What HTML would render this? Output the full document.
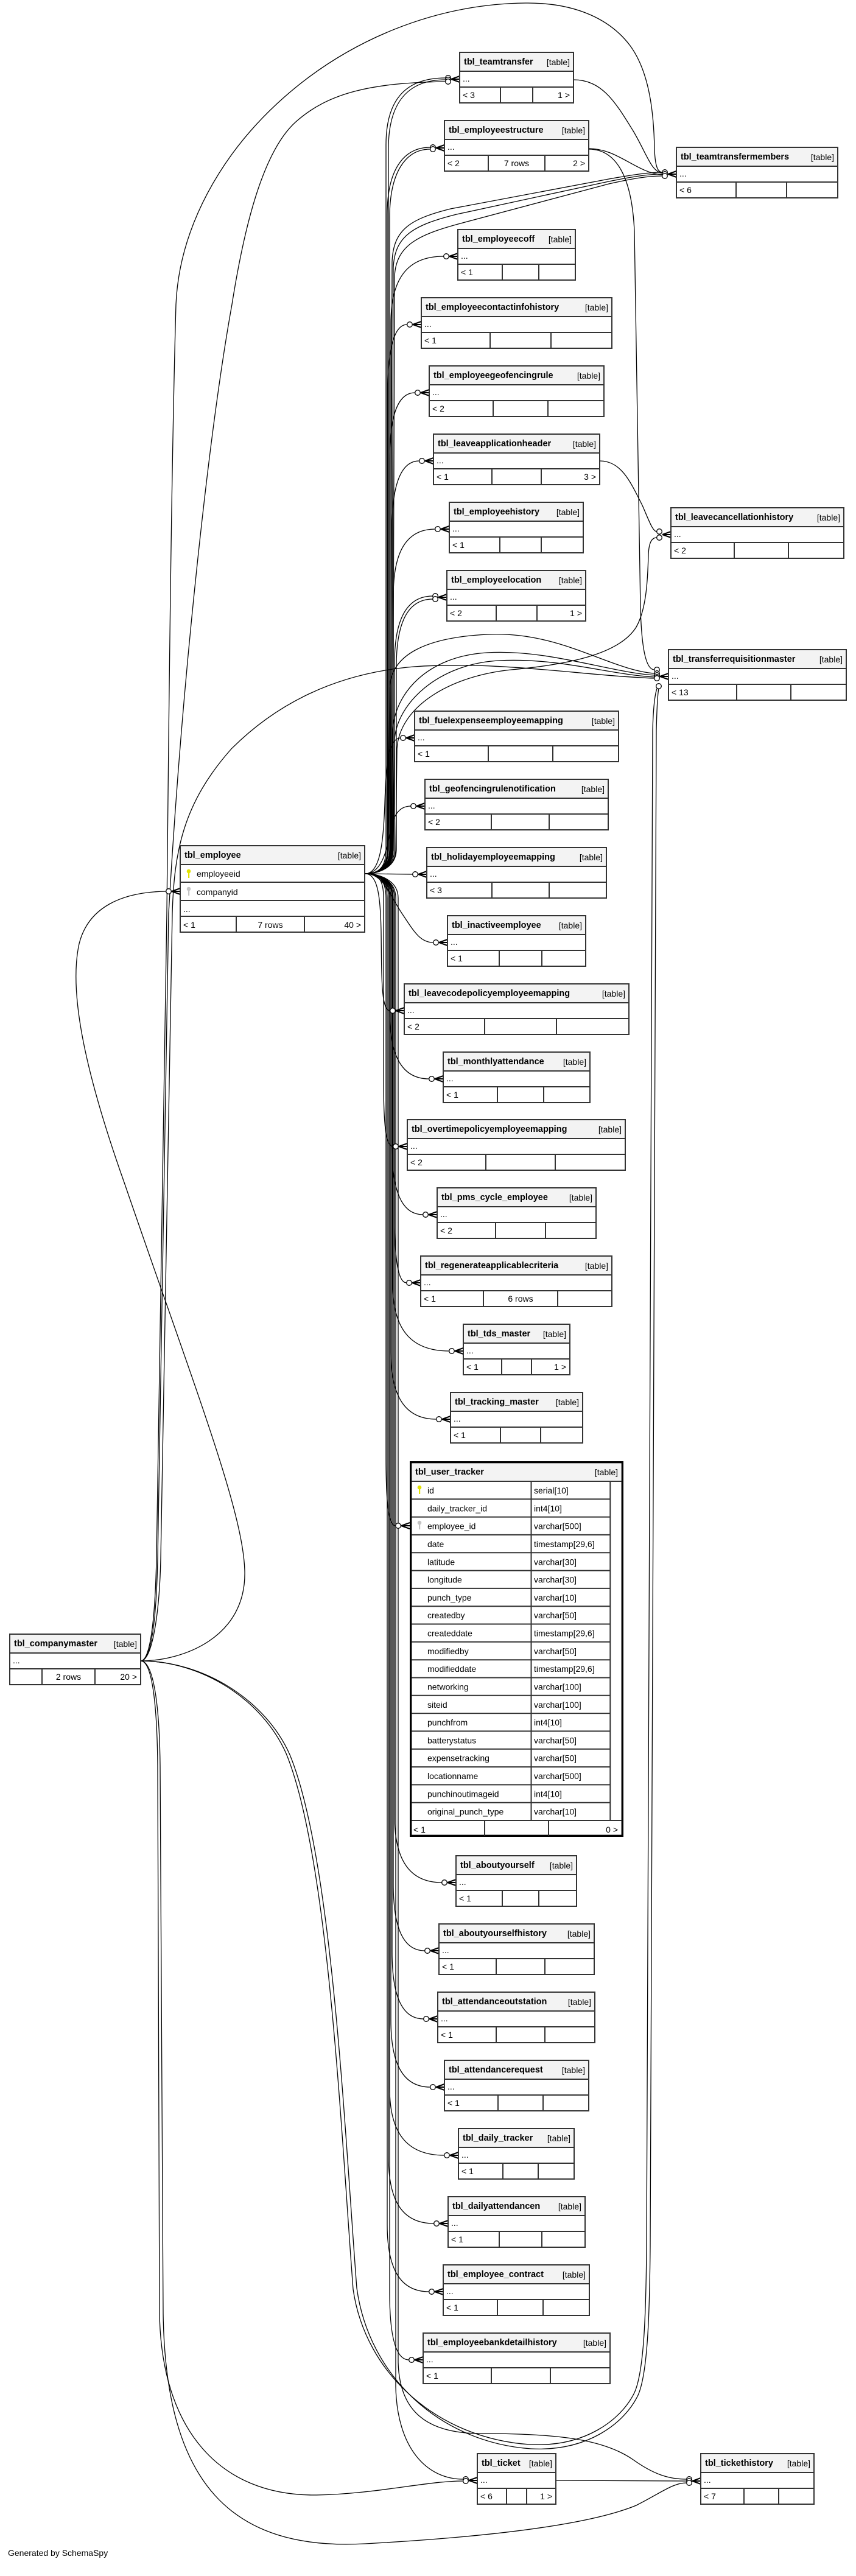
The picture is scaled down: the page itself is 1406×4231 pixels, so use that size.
<!DOCTYPE html>
<html><head><meta charset="utf-8"><style>
html,body{margin:0;padding:0;background:#fff;}
body{width:1406px;height:4231px;overflow:hidden;}
svg{display:block;}
.b{font:bold 14.5px "Liberation Sans",Arial,sans-serif;fill:#000;}
.r{font:14px "Liberation Sans",Arial,sans-serif;fill:#000;}
.box{fill:#fff;stroke:#333;stroke-width:2;}
.hd{fill:#f3f3f3;stroke:#333;stroke-width:2;}
.ln{fill:none;stroke:#333;stroke-width:2;}
.c{fill:none;stroke:#000;stroke-width:1.3;}
.o{fill:#fff;stroke:#000;stroke-width:1.3;}
.cr{fill:none;stroke:#000;stroke-width:2;}
</style></head><body>
<svg width="1406" height="4231" viewBox="0 0 1406 4231" xmlns="http://www.w3.org/2000/svg">

<!-- ========== CONNECTORS ========== -->
<g class="c">
<!-- employee fan: upward -->
<path d="M600,1435 C622,1435 634,1425 634,1395 L634,238 C634,166 664,128 731.7,128"/>
<path d="M600,1435 C622,1435 638,1425 638,1395 L638,244 C638,172 667,131 731.7,131"/>
<path d="M600,1435 C622,1435 636,1425 636,1395 L636,352 C636,280 662,242 706.7,242"/>
<path d="M600,1435 C622,1435 640,1425 640,1395 L640,357 C640,285 665,245 706.7,245"/>
<path d="M600,1435 C622,1435 642,1425 642,1395 L642,531 C642,459 668,421 728.7,421"/>
<path d="M600,1435 C622,1435 637,1425 637,1395 L637,643 C637,571 648,533 668.7,533"/>
<path d="M600,1435 C622,1435 640,1425 640,1395 L640,755 C640,683 653,645 681.7,645"/>
<path d="M600,1435 C622,1435 644,1425 644,1395 L644,867 C644,795 659,757 688.7,757"/>
<path d="M600,1435 C622,1435 646,1425 646,1395 L646,979 C646,907 667,869 714.7,869"/>
<path d="M600,1435 C622,1435 648,1425 648,1395 L648,1089 C648,1017 668,979 710.7,979"/>
<path d="M600,1435 C622,1435 651,1425 651,1395 L651,1094 C651,1022 670,984 710.7,984"/>
<path d="M600,1435 C625,1435 630,1380 632,1320 C634,1250 640,1212 657.7,1212"/>
<path d="M600,1435 C625,1435 635,1400 640,1370 C645,1340 655,1324 674.7,1324"/>
<path d="M600,1435 L677.7,1436"/>
<!-- to teamtransfermembers -->
<path d="M600,1435 C622,1435 641,1425 641,1395 L644,430 C646,378 672,360 740,343 L1000,294 C1040,287 1065,283 1087.7,283"/>
<path d="M600,1435 C622,1435 643,1425 643,1395 L646,440 C648,388 678,370 750,352 L1000,298 C1040,290 1065,286 1087.7,286"/>
<path d="M600,1435 C622,1435 645,1425 645,1395 L648,455 C650,402 688,385 760,366 L1000,302 C1040,293 1065,289 1087.7,289"/>
<!-- to transferrequisitionmaster -->
<path d="M600,1435 C622,1435 638,1425 638,1395 L640,1130 C642,1075 700,1047 800,1042 C920,1036 1000,1100 1074.7,1106"/>
<path d="M600,1435 C622,1435 642,1425 642,1395 L645,1200 C648,1140 700,1078 800,1072 C900,1066 1000,1104 1074.7,1109"/>
<path d="M600,1435 C622,1435 646,1425 646,1395 L648,1215 C652,1155 720,1090 820,1085 C920,1080 1000,1108 1074.7,1112"/>
<!-- to leavecancellationhistory -->
<path d="M600,1435 C622,1435 650,1425 650,1395 L652,1230 C656,1160 740,1110 840,1100 C950,1090 1020,1070 1045,1030 C1062,1000 1064,950 1065,910 C1066,892 1070,883 1078.7,883"/>
<!-- employee fan: downward -->
<path d="M600,1435 C630,1435 640,1470 660,1500 C680,1530 690,1548 711.7,1548"/>
<path d="M600,1435 C622,1435 625,1480 626,1530 C627,1610 626,1660 640.7,1660"/>
<path d="M600,1435 C622,1435 640,1445 640,1475 L640,1662 C640,1734 660,1772 704.7,1772"/>
<path d="M600,1435 C622,1435 630,1445 630,1475 L630,1773 C630,1845 633,1883 645.7,1883"/>
<path d="M600,1435 C622,1435 644,1445 644,1475 L644,1885 C644,1957 660,1995 694.7,1995"/>
<path d="M600,1435 C622,1435 648,1445 648,1475 L648,1997 C648,2069 654,2107 667.7,2107"/>
<path d="M600,1435 C622,1435 645,1445 645,1475 L645,2109 C645,2181 673,2219 737.7,2219"/>
<path d="M600,1435 C622,1435 642,1445 642,1475 L642,2221 C642,2293 665,2331 716.7,2331"/>
<path d="M600,1435 C622,1435 634,1445 634,1475 L634,2396 C634,2468 638,2506 649.7,2506"/>
<path d="M600,1435 C622,1435 648,1445 648,1475 L648,2982 C648,3054 672,3092 725.7,3092"/>
<path d="M600,1435 C622,1435 646,1445 646,1475 L646,3094 C646,3166 662,3204 697.7,3204"/>
<path d="M600,1435 C622,1435 644,1445 644,1475 L644,3206 C644,3278 660,3316 695.7,3316"/>
<path d="M600,1435 C622,1435 642,1445 642,1475 L642,3318 C642,3390 662,3428 706.7,3428"/>
<path d="M600,1435 C622,1435 640,1445 640,1475 L640,3430 C640,3502 667,3540 729.7,3540"/>
<path d="M600,1435 C622,1435 638,1445 638,1475 L638,3542 C638,3614 660,3652 712.7,3652"/>
<path d="M600,1435 C622,1435 636,1445 636,1475 L636,3654 C636,3726 657,3764 704.7,3764"/>
<path d="M600,1435 C622,1435 640,1445 640,1475 L640,3766 C640,3838 650,3876 671.7,3876"/>
<path d="M600,1435 C622,1435 650,1445 650,1475 L650,3920 C652,4020 700,4072 760.7,4072"/>
<path d="M600,1435 C622,1435 654,1445 654,1475 L654,3880 C656,3960 700,3997 790,3997 C910,3997 990,4005 1040,4040 C1075,4065 1100,4072 1127.7,4072"/>

<!-- companymaster lines -->
<path d="M231,2728 C300,2728 405,2690 402,2580 C399,2480 320,2280 205,1945 C150,1790 110,1640 130,1550 C145,1490 200,1465 272.7,1464"/>
<path d="M231,2728 C248,2728 255,2650 257,2560 L274,1500 C278,1100 282,750 289,500 C300,250 560,8 863,5 C950,4 1005,35 1035,75 C1068,120 1074,190 1075,245 C1076,272 1080,283 1087.7,283"/>
<path d="M231,2728 C250,2728 257,2650 259,2560 L277,1500 C300,1100 345,700 381,500 C400,380 430,250 486,200 C540,152 610,136 731.7,134"/>
<path d="M231,2728 C250,2728 262,2650 264,2560 L283,1500 C286,1400 300,1320 380,1230 C460,1150 560,1105 680,1095 C820,1085 960,1110 1074.7,1114"/>
<path d="M231,2728 C250,2728 258,2800 259,2900 L262,3800 C265,3990 360,4100 520,4098 C620,4096 700,4075 760.7,4075"/>
<path d="M231,2728 C252,2728 262,2800 263,2900 L268,3800 C272,4080 380,4190 600,4178 C780,4168 960,4150 1045,4115 C1085,4095 1105,4078 1127.7,4078"/>
<path d="M231,2728 C330,2728 430,2790 470,2880 C540,3050 560,3500 580,3760 C600,3900 720,4005 870,4015 C960,4020 1020,3975 1042,3930 C1058,3895 1061,3800 1062,3690 L1072,1200 C1073,1160 1076,1140 1079,1131"/>
<path d="M231,2728 C334,2728 436,2792 476,2882 C546,3052 566,3500 586,3758 C606,3905 725,4012 872,4022 C965,4027 1026,3980 1048,3934 C1064,3898 1067,3800 1068,3690 L1078,1200 C1079,1160 1080,1140 1082,1131"/>

<!-- other relations -->
<path d="M942,131 C990,131 1012,170 1040,215 C1062,252 1070,283 1087.7,284"/>
<path d="M967,244 C1015,244 1045,284 1087.7,287"/>
<path d="M967,245 C1012,245 1038,290 1042,380 L1052,1000 C1054,1070 1062,1100 1074.7,1100"/>
<path d="M985,757 C1020,757 1035,790 1055,830 C1066,855 1072,873 1078.7,873"/>
<path d="M913,4074 L1127.7,4075"/>
</g>

<!-- ========== CROW'S FEET ========== -->
<g class="cr">
<path d="M741,130 L755,125 M741,130 L755,130 M741,130 L755,135"/>
<path d="M716,243 L730,238 M716,243 L730,243 M716,243 L730,248"/>
<path d="M1097,286 L1111,281 M1097,286 L1111,286 M1097,286 L1111,291"/>
<path d="M738,421 L752,416 M738,421 L752,421 M738,421 L752,426"/>
<path d="M678,533 L692,528 M678,533 L692,533 M678,533 L692,538"/>
<path d="M691,645 L705,640 M691,645 L705,645 M691,645 L705,650"/>
<path d="M698,757 L712,752 M698,757 L712,757 M698,757 L712,762"/>
<path d="M1088,878 L1102,873 M1088,878 L1102,878 M1088,878 L1102,883"/>
<path d="M724,869 L738,864 M724,869 L738,869 M724,869 L738,874"/>
<path d="M720,981 L734,976 M720,981 L734,981 M720,981 L734,986"/>
<path d="M1084,1111 L1098,1106 M1084,1111 L1098,1111 M1084,1111 L1098,1116"/>
<path d="M667,1212 L681,1207 M667,1212 L681,1212 M667,1212 L681,1217"/>
<path d="M684,1324 L698,1319 M684,1324 L698,1324 M684,1324 L698,1329"/>
<path d="M687,1436 L701,1431 M687,1436 L701,1436 M687,1436 L701,1441"/>
<path d="M282,1464 L296,1459 M282,1464 L296,1464 M282,1464 L296,1469"/>
<path d="M721,1548 L735,1543 M721,1548 L735,1548 M721,1548 L735,1553"/>
<path d="M650,1660 L664,1655 M650,1660 L664,1660 M650,1660 L664,1665"/>
<path d="M714,1772 L728,1767 M714,1772 L728,1772 M714,1772 L728,1777"/>
<path d="M655,1883 L669,1878 M655,1883 L669,1883 M655,1883 L669,1888"/>
<path d="M704,1995 L718,1990 M704,1995 L718,1995 M704,1995 L718,2000"/>
<path d="M677,2107 L691,2102 M677,2107 L691,2107 M677,2107 L691,2112"/>
<path d="M747,2219 L761,2214 M747,2219 L761,2219 M747,2219 L761,2224"/>
<path d="M726,2331 L740,2326 M726,2331 L740,2331 M726,2331 L740,2336"/>
<path d="M659,2506 L673,2501 M659,2506 L673,2506 M659,2506 L673,2511"/>
<path d="M735,3092 L749,3087 M735,3092 L749,3092 M735,3092 L749,3097"/>
<path d="M707,3204 L721,3199 M707,3204 L721,3204 M707,3204 L721,3209"/>
<path d="M705,3316 L719,3311 M705,3316 L719,3316 M705,3316 L719,3321"/>
<path d="M716,3428 L730,3423 M716,3428 L730,3428 M716,3428 L730,3433"/>
<path d="M739,3540 L753,3535 M739,3540 L753,3540 M739,3540 L753,3545"/>
<path d="M722,3652 L736,3647 M722,3652 L736,3652 M722,3652 L736,3657"/>
<path d="M714,3764 L728,3759 M714,3764 L728,3764 M714,3764 L728,3769"/>
<path d="M681,3876 L695,3871 M681,3876 L695,3876 M681,3876 L695,3881"/>
<path d="M770,4074 L784,4069 M770,4074 L784,4074 M770,4074 L784,4079"/>
<path d="M1137,4075 L1151,4070 M1137,4075 L1151,4075 M1137,4075 L1151,4080"/>
</g>

<!-- ========== CIRCLES ========== -->
<g class="o">
<circle cx="736" cy="128" r="4.3"/><circle cx="736" cy="131" r="4.3"/><circle cx="736" cy="134" r="4.3"/>
<circle cx="711" cy="242" r="4.3"/><circle cx="711" cy="245" r="4.3"/>
<circle cx="1092" cy="283" r="4.3"/><circle cx="1092" cy="286" r="4.3"/><circle cx="1092" cy="289" r="4.3"/>
<circle cx="733" cy="421" r="4.3"/>
<circle cx="673" cy="533" r="4.3"/>
<circle cx="686" cy="645" r="4.3"/>
<circle cx="693" cy="757" r="4.3"/>
<circle cx="1083" cy="873" r="4.3"/><circle cx="1083" cy="883" r="4.3"/>
<circle cx="719" cy="869" r="4.3"/>
<circle cx="715" cy="979" r="4.3"/><circle cx="715" cy="984" r="4.3"/>
<circle cx="1079" cy="1100" r="4.3"/><circle cx="1079" cy="1106" r="4.3"/><circle cx="1079" cy="1109" r="4.3"/><circle cx="1079" cy="1112" r="4.3"/><circle cx="1079" cy="1114" r="4.3"/><circle cx="1082" cy="1127" r="4.3"/>
<circle cx="662" cy="1212" r="4.3"/>
<circle cx="679" cy="1324" r="4.3"/>
<circle cx="682" cy="1436" r="4.3"/>
<circle cx="277" cy="1464" r="4.3"/>
<circle cx="716" cy="1548" r="4.3"/>
<circle cx="645" cy="1660" r="4.3"/>
<circle cx="709" cy="1772" r="4.3"/>
<circle cx="650" cy="1883" r="4.3"/>
<circle cx="699" cy="1995" r="4.3"/>
<circle cx="672" cy="2107" r="4.3"/>
<circle cx="742" cy="2219" r="4.3"/>
<circle cx="721" cy="2331" r="4.3"/>
<circle cx="654" cy="2506" r="4.3"/>
<circle cx="730" cy="3092" r="4.3"/>
<circle cx="702" cy="3204" r="4.3"/>
<circle cx="700" cy="3316" r="4.3"/>
<circle cx="711" cy="3428" r="4.3"/>
<circle cx="734" cy="3540" r="4.3"/>
<circle cx="717" cy="3652" r="4.3"/>
<circle cx="709" cy="3764" r="4.3"/>
<circle cx="676" cy="3876" r="4.3"/>
<circle cx="765" cy="4072" r="4.3"/><circle cx="765" cy="4075" r="4.3"/>
<circle cx="1132" cy="4072" r="4.3"/><circle cx="1132" cy="4075" r="4.3"/><circle cx="1132" cy="4078" r="4.3"/>
</g>

<!-- ========== TABLES ========== -->
<!-- teamtransfer -->
<rect class="box" x="755" y="86" width="187" height="83"/><rect class="hd" x="755" y="86" width="187" height="31"/>
<path class="ln" d="M755 143H942 M822 143V169 M875 143V169"/>
<text class="b" x="762" y="106">tbl_teamtransfer</text><text class="r" x="936" y="107" text-anchor="end">[table]</text>
<text class="r" x="760" y="134">...</text><text class="r" x="760" y="161">&lt; 3</text><text class="r" x="936" y="161" text-anchor="end">1 &gt;</text>

<!-- employeestructure -->
<rect class="box" x="730" y="198" width="237" height="83"/><rect class="hd" x="730" y="198" width="237" height="31"/>
<path class="ln" d="M730 255H967 M802 255V281 M895 255V281"/>
<text class="b" x="737" y="218">tbl_employeestructure</text><text class="r" x="961" y="219" text-anchor="end">[table]</text>
<text class="r" x="735" y="246">...</text><text class="r" x="735" y="273">&lt; 2</text><text class="r" x="848.5" y="273" text-anchor="middle">7 rows</text><text class="r" x="961" y="273" text-anchor="end">2 &gt;</text>

<!-- teamtransfermembers -->
<rect class="box" x="1111" y="242" width="265" height="83"/><rect class="hd" x="1111" y="242" width="265" height="31"/>
<path class="ln" d="M1111 299H1376 M1209 299V325 M1292 299V325"/>
<text class="b" x="1118" y="262">tbl_teamtransfermembers</text><text class="r" x="1370" y="263" text-anchor="end">[table]</text>
<text class="r" x="1116" y="290">...</text><text class="r" x="1116" y="317">&lt; 6</text>

<!-- employeecoff -->
<rect class="box" x="752" y="377" width="193" height="83"/><rect class="hd" x="752" y="377" width="193" height="31"/>
<path class="ln" d="M752 434H945 M825 434V460 M885 434V460"/>
<text class="b" x="759" y="397">tbl_employeecoff</text><text class="r" x="939" y="398" text-anchor="end">[table]</text>
<text class="r" x="757" y="425">...</text><text class="r" x="757" y="452">&lt; 1</text>

<!-- employeecontactinfohistory -->
<rect class="box" x="692" y="489" width="313" height="83"/><rect class="hd" x="692" y="489" width="313" height="31"/>
<path class="ln" d="M692 546H1005 M805 546V572 M905 546V572"/>
<text class="b" x="699" y="509">tbl_employeecontactinfohistory</text><text class="r" x="999" y="510" text-anchor="end">[table]</text>
<text class="r" x="697" y="537">...</text><text class="r" x="697" y="564">&lt; 1</text>

<!-- employeegeofencingrule -->
<rect class="box" x="705" y="601" width="287" height="83"/><rect class="hd" x="705" y="601" width="287" height="31"/>
<path class="ln" d="M705 658H992 M810 658V684 M900 658V684"/>
<text class="b" x="712" y="621">tbl_employeegeofencingrule</text><text class="r" x="986" y="622" text-anchor="end">[table]</text>
<text class="r" x="710" y="649">...</text><text class="r" x="710" y="676">&lt; 2</text>

<!-- leaveapplicationheader -->
<rect class="box" x="712" y="713" width="273" height="83"/><rect class="hd" x="712" y="713" width="273" height="31"/>
<path class="ln" d="M712 770H985 M808 770V796 M889 770V796"/>
<text class="b" x="719" y="733">tbl_leaveapplicationheader</text><text class="r" x="979" y="734" text-anchor="end">[table]</text>
<text class="r" x="717" y="761">...</text><text class="r" x="717" y="788">&lt; 1</text><text class="r" x="979" y="788" text-anchor="end">3 &gt;</text>

<!-- leavecancellationhistory -->
<rect class="box" x="1102" y="834" width="284" height="83"/><rect class="hd" x="1102" y="834" width="284" height="31"/>
<path class="ln" d="M1102 891H1386 M1206 891V917 M1295 891V917"/>
<text class="b" x="1109" y="854">tbl_leavecancellationhistory</text><text class="r" x="1380" y="855" text-anchor="end">[table]</text>
<text class="r" x="1107" y="882">...</text><text class="r" x="1107" y="909">&lt; 2</text>

<!-- employeehistory -->
<rect class="box" x="738" y="825" width="220" height="83"/><rect class="hd" x="738" y="825" width="220" height="31"/>
<path class="ln" d="M738 882H958 M821 882V908 M889 882V908"/>
<text class="b" x="745" y="845">tbl_employeehistory</text><text class="r" x="952" y="846" text-anchor="end">[table]</text>
<text class="r" x="743" y="873">...</text><text class="r" x="743" y="900">&lt; 1</text>

<!-- employeelocation -->
<rect class="box" x="734" y="937" width="228" height="83"/><rect class="hd" x="734" y="937" width="228" height="31"/>
<path class="ln" d="M734 994H962 M815 994V1020 M882 994V1020"/>
<text class="b" x="741" y="957">tbl_employeelocation</text><text class="r" x="956" y="958" text-anchor="end">[table]</text>
<text class="r" x="739" y="985">...</text><text class="r" x="739" y="1012">&lt; 2</text><text class="r" x="956" y="1012" text-anchor="end">1 &gt;</text>

<!-- transferrequisitionmaster -->
<rect class="box" x="1098" y="1067" width="292" height="83"/><rect class="hd" x="1098" y="1067" width="292" height="31"/>
<path class="ln" d="M1098 1124H1390 M1210 1124V1150 M1299 1124V1150"/>
<text class="b" x="1105" y="1087">tbl_transferrequisitionmaster</text><text class="r" x="1384" y="1088" text-anchor="end">[table]</text>
<text class="r" x="1103" y="1115">...</text><text class="r" x="1103" y="1142">&lt; 13</text>

<!-- fuelexpenseemployeemapping -->
<rect class="box" x="681" y="1168" width="335" height="83"/><rect class="hd" x="681" y="1168" width="335" height="31"/>
<path class="ln" d="M681 1225H1016 M802 1225V1251 M908 1225V1251"/>
<text class="b" x="688" y="1188">tbl_fuelexpenseemployeemapping</text><text class="r" x="1010" y="1189" text-anchor="end">[table]</text>
<text class="r" x="686" y="1216">...</text><text class="r" x="686" y="1243">&lt; 1</text>

<!-- geofencingrulenotification -->
<rect class="box" x="698" y="1280" width="301" height="83"/><rect class="hd" x="698" y="1280" width="301" height="31"/>
<path class="ln" d="M698 1337H999 M807 1337V1363 M902 1337V1363"/>
<text class="b" x="705" y="1300">tbl_geofencingrulenotification</text><text class="r" x="993" y="1301" text-anchor="end">[table]</text>
<text class="r" x="703" y="1328">...</text><text class="r" x="703" y="1355">&lt; 2</text>

<!-- holidayemployeemapping -->
<rect class="box" x="701" y="1392" width="295" height="83"/><rect class="hd" x="701" y="1392" width="295" height="31"/>
<path class="ln" d="M701 1449H996 M808 1449V1475 M902 1449V1475"/>
<text class="b" x="708" y="1412">tbl_holidayemployeemapping</text><text class="r" x="990" y="1413" text-anchor="end">[table]</text>
<text class="r" x="706" y="1440">...</text><text class="r" x="706" y="1467">&lt; 3</text>

<!-- employee -->
<rect class="box" x="296" y="1389" width="303" height="142"/><rect class="hd" x="296" y="1389" width="303" height="31"/>
<path class="ln" d="M296 1449H599 M296 1479H599 M296 1505H599 M388 1505V1531 M500 1505V1531"/>
<text class="b" x="303" y="1409">tbl_employee</text><text class="r" x="593" y="1410" text-anchor="end">[table]</text>
<g fill="#e2e200"><circle cx="310" cy="1431" r="3.3"/><rect x="309" y="1433" width="2.2" height="9"/></g>
<g fill="#c4c4c4"><circle cx="310" cy="1460" r="3.3"/><rect x="309" y="1462" width="2.2" height="9"/></g>
<text class="r" x="323" y="1440">employeeid</text>
<text class="r" x="323" y="1470">companyid</text>
<text class="r" x="301" y="1498">...</text>
<text class="r" x="301" y="1524">&lt; 1</text><text class="r" x="444" y="1524" text-anchor="middle">7 rows</text><text class="r" x="593" y="1524" text-anchor="end">40 &gt;</text>

<!-- inactiveemployee -->
<rect class="box" x="735" y="1504" width="227" height="83"/><rect class="hd" x="735" y="1504" width="227" height="31"/>
<path class="ln" d="M735 1561H962 M820 1561V1587 M890 1561V1587"/>
<text class="b" x="742" y="1524">tbl_inactiveemployee</text><text class="r" x="956" y="1525" text-anchor="end">[table]</text>
<text class="r" x="740" y="1552">...</text><text class="r" x="740" y="1579">&lt; 1</text>

<!-- leavecodepolicyemployeemapping -->
<rect class="box" x="664" y="1616" width="369" height="83"/><rect class="hd" x="664" y="1616" width="369" height="31"/>
<path class="ln" d="M664 1673H1033 M796 1673V1699 M914 1673V1699"/>
<text class="b" x="671" y="1636">tbl_leavecodepolicyemployeemapping</text><text class="r" x="1027" y="1637" text-anchor="end">[table]</text>
<text class="r" x="669" y="1664">...</text><text class="r" x="669" y="1691">&lt; 2</text>

<!-- monthlyattendance -->
<rect class="box" x="728" y="1728" width="241" height="83"/><rect class="hd" x="728" y="1728" width="241" height="31"/>
<path class="ln" d="M728 1785H969 M817 1785V1811 M893 1785V1811"/>
<text class="b" x="735" y="1748">tbl_monthlyattendance</text><text class="r" x="963" y="1749" text-anchor="end">[table]</text>
<text class="r" x="733" y="1776">...</text><text class="r" x="733" y="1803">&lt; 1</text>

<!-- overtimepolicyemployeemapping -->
<rect class="box" x="669" y="1839" width="358" height="83"/><rect class="hd" x="669" y="1839" width="358" height="31"/>
<path class="ln" d="M669 1896H1027 M798 1896V1922 M912 1896V1922"/>
<text class="b" x="676" y="1859">tbl_overtimepolicyemployeemapping</text><text class="r" x="1021" y="1860" text-anchor="end">[table]</text>
<text class="r" x="674" y="1887">...</text><text class="r" x="674" y="1914">&lt; 2</text>

<!-- pms_cycle_employee -->
<rect class="box" x="718" y="1951" width="261" height="83"/><rect class="hd" x="718" y="1951" width="261" height="31"/>
<path class="ln" d="M718 2008H979 M814 2008V2034 M896 2008V2034"/>
<text class="b" x="725" y="1971">tbl_pms_cycle_employee</text><text class="r" x="973" y="1972" text-anchor="end">[table]</text>
<text class="r" x="723" y="1999">...</text><text class="r" x="723" y="2026">&lt; 2</text>

<!-- regenerateapplicablecriteria -->
<rect class="box" x="691" y="2063" width="314" height="83"/><rect class="hd" x="691" y="2063" width="314" height="31"/>
<path class="ln" d="M691 2120H1005 M794 2120V2146 M916 2120V2146"/>
<text class="b" x="698" y="2083">tbl_regenerateapplicablecriteria</text><text class="r" x="999" y="2084" text-anchor="end">[table]</text>
<text class="r" x="696" y="2111">...</text><text class="r" x="696" y="2138">&lt; 1</text><text class="r" x="855" y="2138" text-anchor="middle">6 rows</text>

<!-- tds_master -->
<rect class="box" x="761" y="2175" width="175" height="83"/><rect class="hd" x="761" y="2175" width="175" height="31"/>
<path class="ln" d="M761 2232H936 M824 2232V2258 M873 2232V2258"/>
<text class="b" x="768" y="2195">tbl_tds_master</text><text class="r" x="930" y="2196" text-anchor="end">[table]</text>
<text class="r" x="766" y="2223">...</text><text class="r" x="766" y="2250">&lt; 1</text><text class="r" x="930" y="2250" text-anchor="end">1 &gt;</text>

<!-- tracking_master -->
<rect class="box" x="740" y="2287" width="217" height="83"/><rect class="hd" x="740" y="2287" width="217" height="31"/>
<path class="ln" d="M740 2344H957 M822 2344V2370 M888 2344V2370"/>
<text class="b" x="747" y="2307">tbl_tracking_master</text><text class="r" x="951" y="2308" text-anchor="end">[table]</text>
<text class="r" x="745" y="2335">...</text><text class="r" x="745" y="2362">&lt; 1</text>

<!-- user_tracker -->
<rect x="674.7" y="2401.7" width="347.6" height="613.6" fill="#fff" stroke="#000" stroke-width="3.4"/>
<rect x="676.4" y="2403.4" width="344.2" height="29.6" fill="#f3f3f3"/>
<path class="ln" d="M676 2433H1021 M676 2462.3H1002.3 M676 2491.6H1002.3 M676 2520.9H1002.3 M676 2550.3H1002.3 M676 2579.6H1002.3 M676 2608.9H1002.3 M676 2638.2H1002.3 M676 2667.5H1002.3 M676 2696.8H1002.3 M676 2726.2H1002.3 M676 2755.5H1002.3 M676 2784.8H1002.3 M676 2814.1H1002.3 M676 2843.4H1002.3 M676 2872.7H1002.3 M676 2902.1H1002.3 M676 2931.4H1002.3 M676 2960.7H1002.3 M676 2990H1021 M872.5 2433V2990 M1002.3 2433V2990 M796 2990V3015 M901 2990V3015"/>
<text class="b" x="682" y="2422">tbl_user_tracker</text><text class="r" x="1015" y="2423" text-anchor="end">[table]</text>
<g fill="#e2e200"><circle cx="689" cy="2443" r="3.3"/><rect x="688" y="2445" width="2.2" height="9"/></g>
<g fill="#c4c4c4"><circle cx="689" cy="2501" r="3.3"/><rect x="688" y="2503" width="2.2" height="9"/></g>
<g class="r">
<text x="702" y="2453">id</text><text x="877" y="2453">serial[10]</text>
<text x="702" y="2482.3">daily_tracker_id</text><text x="877" y="2482.3">int4[10]</text>
<text x="702" y="2511.6">employee_id</text><text x="877" y="2511.6">varchar[500]</text>
<text x="702" y="2540.9">date</text><text x="877" y="2540.9">timestamp[29,6]</text>
<text x="702" y="2570.3">latitude</text><text x="877" y="2570.3">varchar[30]</text>
<text x="702" y="2599.6">longitude</text><text x="877" y="2599.6">varchar[30]</text>
<text x="702" y="2628.9">punch_type</text><text x="877" y="2628.9">varchar[10]</text>
<text x="702" y="2658.2">createdby</text><text x="877" y="2658.2">varchar[50]</text>
<text x="702" y="2687.5">createddate</text><text x="877" y="2687.5">timestamp[29,6]</text>
<text x="702" y="2716.8">modifiedby</text><text x="877" y="2716.8">varchar[50]</text>
<text x="702" y="2746.2">modifieddate</text><text x="877" y="2746.2">timestamp[29,6]</text>
<text x="702" y="2775.5">networking</text><text x="877" y="2775.5">varchar[100]</text>
<text x="702" y="2804.8">siteid</text><text x="877" y="2804.8">varchar[100]</text>
<text x="702" y="2834.1">punchfrom</text><text x="877" y="2834.1">int4[10]</text>
<text x="702" y="2863.4">batterystatus</text><text x="877" y="2863.4">varchar[50]</text>
<text x="702" y="2892.7">expensetracking</text><text x="877" y="2892.7">varchar[50]</text>
<text x="702" y="2922.1">locationname</text><text x="877" y="2922.1">varchar[500]</text>
<text x="702" y="2951.4">punchinoutimageid</text><text x="877" y="2951.4">int4[10]</text>
<text x="702" y="2980.7">original_punch_type</text><text x="877" y="2980.7">varchar[10]</text>
<text x="679" y="3010">&lt; 1</text><text x="1015" y="3010" text-anchor="end">0 &gt;</text>
</g>

<!-- companymaster -->
<rect class="box" x="16" y="2684" width="215" height="83"/><rect class="hd" x="16" y="2684" width="215" height="31"/>
<path class="ln" d="M16 2741H231 M69 2741V2767 M156 2741V2767"/>
<text class="b" x="23" y="2704">tbl_companymaster</text><text class="r" x="225" y="2705" text-anchor="end">[table]</text>
<text class="r" x="21" y="2732">...</text><text class="r" x="112.5" y="2759" text-anchor="middle">2 rows</text><text class="r" x="225" y="2759" text-anchor="end">20 &gt;</text>

<!-- aboutyourself -->
<rect class="box" x="749" y="3048" width="198" height="83"/><rect class="hd" x="749" y="3048" width="198" height="31"/>
<path class="ln" d="M749 3105H947 M825 3105V3131 M885 3105V3131"/>
<text class="b" x="756" y="3068">tbl_aboutyourself</text><text class="r" x="941" y="3069" text-anchor="end">[table]</text>
<text class="r" x="754" y="3096">...</text><text class="r" x="754" y="3123">&lt; 1</text>

<!-- aboutyourselfhistory -->
<rect class="box" x="721" y="3160" width="255" height="83"/><rect class="hd" x="721" y="3160" width="255" height="31"/>
<path class="ln" d="M721 3217H976 M815 3217V3243 M895 3217V3243"/>
<text class="b" x="728" y="3180">tbl_aboutyourselfhistory</text><text class="r" x="970" y="3181" text-anchor="end">[table]</text>
<text class="r" x="726" y="3208">...</text><text class="r" x="726" y="3235">&lt; 1</text>

<!-- attendanceoutstation -->
<rect class="box" x="719" y="3272" width="258" height="83"/><rect class="hd" x="719" y="3272" width="258" height="31"/>
<path class="ln" d="M719 3329H977 M815 3329V3355 M895 3329V3355"/>
<text class="b" x="726" y="3292">tbl_attendanceoutstation</text><text class="r" x="971" y="3293" text-anchor="end">[table]</text>
<text class="r" x="724" y="3320">...</text><text class="r" x="724" y="3347">&lt; 1</text>

<!-- attendancerequest -->
<rect class="box" x="730" y="3384" width="237" height="83"/><rect class="hd" x="730" y="3384" width="237" height="31"/>
<path class="ln" d="M730 3441H967 M818 3441V3467 M892 3441V3467"/>
<text class="b" x="737" y="3404">tbl_attendancerequest</text><text class="r" x="961" y="3405" text-anchor="end">[table]</text>
<text class="r" x="735" y="3432">...</text><text class="r" x="735" y="3459">&lt; 1</text>

<!-- daily_tracker -->
<rect class="box" x="753" y="3496" width="190" height="83"/><rect class="hd" x="753" y="3496" width="190" height="31"/>
<path class="ln" d="M753 3553H943 M826 3553V3579 M884 3553V3579"/>
<text class="b" x="760" y="3516">tbl_daily_tracker</text><text class="r" x="937" y="3517" text-anchor="end">[table]</text>
<text class="r" x="758" y="3544">...</text><text class="r" x="758" y="3571">&lt; 1</text>

<!-- dailyattendancen -->
<rect class="box" x="736" y="3608" width="225" height="83"/><rect class="hd" x="736" y="3608" width="225" height="31"/>
<path class="ln" d="M736 3665H961 M820 3665V3691 M890 3665V3691"/>
<text class="b" x="743" y="3628">tbl_dailyattendancen</text><text class="r" x="955" y="3629" text-anchor="end">[table]</text>
<text class="r" x="741" y="3656">...</text><text class="r" x="741" y="3683">&lt; 1</text>

<!-- employee_contract -->
<rect class="box" x="728" y="3720" width="240" height="83"/><rect class="hd" x="728" y="3720" width="240" height="31"/>
<path class="ln" d="M728 3777H968 M817 3777V3803 M892 3777V3803"/>
<text class="b" x="735" y="3740">tbl_employee_contract</text><text class="r" x="962" y="3741" text-anchor="end">[table]</text>
<text class="r" x="733" y="3768">...</text><text class="r" x="733" y="3795">&lt; 1</text>

<!-- employeebankdetailhistory -->
<rect class="box" x="695" y="3832" width="307" height="83"/><rect class="hd" x="695" y="3832" width="307" height="31"/>
<path class="ln" d="M695 3889H1002 M807 3889V3915 M904 3889V3915"/>
<text class="b" x="702" y="3852">tbl_employeebankdetailhistory</text><text class="r" x="996" y="3853" text-anchor="end">[table]</text>
<text class="r" x="700" y="3880">...</text><text class="r" x="700" y="3907">&lt; 1</text>

<!-- ticket -->
<rect class="box" x="784" y="4030" width="129" height="83"/><rect class="hd" x="784" y="4030" width="129" height="31"/>
<path class="ln" d="M784 4087H913 M832 4087V4113 M865 4087V4113"/>
<text class="b" x="791" y="4050">tbl_ticket</text><text class="r" x="907" y="4051" text-anchor="end">[table]</text>
<text class="r" x="789" y="4078">...</text><text class="r" x="789" y="4105">&lt; 6</text><text class="r" x="907" y="4105" text-anchor="end">1 &gt;</text>

<!-- tickethistory -->
<rect class="box" x="1151" y="4030" width="186" height="83"/><rect class="hd" x="1151" y="4030" width="186" height="31"/>
<path class="ln" d="M1151 4087H1337 M1222 4087V4113 M1279 4087V4113"/>
<text class="b" x="1158" y="4050">tbl_tickethistory</text><text class="r" x="1331" y="4051" text-anchor="end">[table]</text>
<text class="r" x="1156" y="4078">...</text><text class="r" x="1156" y="4105">&lt; 7</text>

<text class="r" x="13" y="4198">Generated by SchemaSpy</text>
</svg>
</body></html>
